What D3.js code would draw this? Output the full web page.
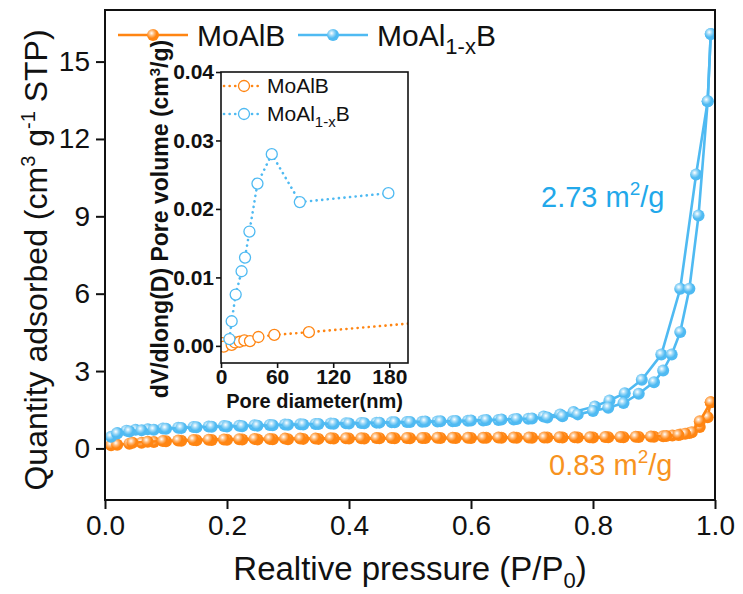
<!DOCTYPE html>
<html><head><meta charset="utf-8">
<script src="https://cdn.jsdelivr.net/npm/d3@7"></script>
<style>body{margin:0;background:#fff}svg{display:block}text{font-family:"Liberation Sans",Arial,sans-serif}</style>
</head><body><svg id="c" width="743" height="594"></svg>
<script>
// ---- main isotherm data (P/P0, quantity adsorbed) ----
const mainXTicks = [0, 0.2, 0.4, 0.6, 0.8, 1.0];
const mainYTicks = [0, 3, 6, 9, 12, 15];
const blueAdsP = [0.01,0.02,0.04,0.06,0.08,0.10,0.125,0.15,0.175,0.20,0.225,0.25,0.275,0.30,0.325,0.35,0.375,0.40,0.425,0.45,0.475,0.50,0.525,0.55,0.575,0.60,0.625,0.65,0.675,0.70,0.725,0.75,0.775,0.80,0.825,0.85,0.875,0.90,0.915,0.929,0.943,0.958,0.973,0.988,0.993];
const blueAdsQ = [0.45,0.58,0.66,0.70,0.72,0.76,0.79,0.82,0.84,0.85,0.86,0.88,0.90,0.92,0.93,0.95,0.96,0.97,0.98,1.00,1.01,1.02,1.04,1.05,1.06,1.08,1.10,1.12,1.14,1.16,1.20,1.25,1.32,1.45,1.58,1.76,2.12,2.57,3.02,3.64,4.51,6.19,9.03,13.46,16.07];
const blueDesP = [0.993,0.988,0.969,0.943,0.912,0.880,0.852,0.827,0.803,0.768,0.746,0.719,0.694,0.67,0.645,0.62,0.595,0.57,0.545,0.52,0.495,0.47,0.445,0.42,0.395,0.37,0.345,0.32,0.295,0.27,0.245,0.22,0.195,0.17,0.145,0.12,0.095,0.07,0.05,0.035,0.02];
const blueDesQ = [16.07,13.46,10.62,6.19,3.64,2.66,2.14,1.86,1.63,1.41,1.32,1.24,1.15,1.12,1.10,1.08,1.07,1.05,1.04,1.03,1.02,1.01,1.00,0.99,0.98,0.97,0.95,0.94,0.93,0.91,0.90,0.88,0.87,0.85,0.83,0.80,0.77,0.74,0.72,0.69,0.60];
const orangeAdsP = [0.01,0.02,0.04,0.06,0.08,0.10,0.125,0.15,0.175,0.20,0.225,0.25,0.275,0.30,0.325,0.35,0.375,0.40,0.425,0.45,0.475,0.50,0.525,0.55,0.575,0.60,0.625,0.65,0.675,0.70,0.725,0.75,0.775,0.80,0.825,0.85,0.875,0.90,0.915,0.93,0.943,0.958,0.975,0.988,0.993];
const orangeAdsQ = [0.12,0.14,0.18,0.22,0.25,0.28,0.30,0.32,0.33,0.34,0.35,0.35,0.36,0.36,0.37,0.37,0.38,0.38,0.38,0.39,0.39,0.39,0.40,0.40,0.40,0.40,0.41,0.41,0.41,0.41,0.42,0.42,0.42,0.42,0.43,0.43,0.44,0.45,0.47,0.50,0.54,0.60,0.83,1.21,1.79];
const orangeDesP = [0.993,0.975,0.962,0.951,0.94,0.92,0.895,0.87,0.845,0.82,0.795,0.77,0.745,0.72,0.695,0.67,0.645,0.62,0.595,0.57,0.545,0.52,0.495,0.47,0.445,0.42,0.395,0.37,0.345,0.32,0.295,0.27,0.245,0.22,0.195,0.17,0.145,0.12,0.095,0.07,0.045];
const orangeDesQ = [1.79,1.05,0.63,0.57,0.52,0.48,0.46,0.45,0.44,0.44,0.43,0.43,0.43,0.42,0.42,0.42,0.42,0.41,0.41,0.41,0.41,0.40,0.40,0.40,0.40,0.39,0.39,0.39,0.38,0.38,0.38,0.37,0.37,0.36,0.35,0.34,0.33,0.31,0.29,0.26,0.22];
// ---- inset pore size distribution ----
const insetXTicks = [0, 60, 120, 180];
const insetYTicks = [0, 0.01, 0.02, 0.03, 0.04];
const poreBlueD = [9, 11.4, 15.7, 22, 25.7, 30.4, 39, 54.3, 84.3, 179];
const poreBlueV = [0.0010, 0.0036, 0.0075, 0.0109, 0.0129, 0.0167, 0.0237, 0.0280, 0.0210, 0.0223];
const poreOrangeD = [1.8, 3, 11.4, 15, 20, 25, 31, 40, 57, 94, 230];
const poreOrangeV = [0.0004, -0.0001, 0.00015, 0.0005, 0.0006, 0.0008, 0.0007, 0.0013, 0.0016, 0.0020, 0.0036];
const seriesNames = ["MoAlB", "MoAl1-xB"];
const areaLabels = ["2.73", "0.83"];

const ORANGE = "#ff8512", BLUE = "#4fbaf2", ORANGE_T = "#f7931e", BLUE_T = "#22a8ea";
const svg = d3.select("#c");
const defs = svg.append("defs");
function grad(id, col){
  const g = defs.append("radialGradient").attr("id", id).attr("cx","38%").attr("cy","35%").attr("r","65%");
  g.append("stop").attr("offset","0%").attr("stop-color","#fff");
  g.append("stop").attr("offset","35%").attr("stop-color",d3.interpolateRgb("#fff",col)(0.6));
  g.append("stop").attr("offset","65%").attr("stop-color",col);
  g.append("stop").attr("offset","100%").attr("stop-color",col);
}
grad("gO", ORANGE); grad("gB", BLUE);

const L=105, R=715, T=10, B=500;
const x = d3.scaleLinear([0,1],[L,R]);
const y = d3.scaleLinear([-2,17],[B,T]);

svg.append("clipPath").attr("id","mc").append("rect").attr("x",L).attr("y",T).attr("width",R-L).attr("height",B-T);
const plot = svg.append("g").attr("clip-path","url(#mc)");
const line = d3.line().x(d=>x(d[0])).y(d=>y(d[1]));
function zip(a,b){return a.map((v,i)=>[v,b[i]]);}
function series(P,Q,col,g){
  const d = zip(P,Q);
  plot.append("path").attr("d",line(d)).attr("fill","none").attr("stroke",col).attr("stroke-width",2.6);
  plot.append("g").selectAll("circle").data(d).join("circle").attr("cx",p=>x(p[0])).attr("cy",p=>y(p[1])).attr("r",6).attr("fill",`url(#${g})`);
}
series(orangeAdsP, orangeAdsQ, ORANGE, "gO");
series(orangeDesP, orangeDesQ, ORANGE, "gO");
series(blueDesP, blueDesQ, BLUE, "gB");
series(blueAdsP, blueAdsQ, BLUE, "gB");

// axes
const ax = svg.append("g").attr("transform",`translate(0,${B})`).call(d3.axisBottom(x).tickValues(mainXTicks).tickFormat(d3.format(".1f")).tickSize(9).tickPadding(6).tickSizeOuter(0));
const ay = svg.append("g").attr("transform",`translate(${L},0)`).call(d3.axisLeft(y).tickValues(mainYTicks).tickSize(9).tickPadding(6).tickSizeOuter(0));
[ax,ay].forEach(a=>{a.select(".domain").remove();a.selectAll("line").attr("stroke","#111").attr("stroke-width",2);a.selectAll("text").attr("font-size",28).attr("fill","#111").attr("font-family","Liberation Sans, Arial");});
svg.append("rect").attr("x",L).attr("y",T).attr("width",R-L).attr("height",B-T).attr("fill","none").attr("stroke","#111").attr("stroke-width",2);

// axis titles
const xt = svg.append("text").attr("x",(L+R)/2).attr("y",580).attr("text-anchor","middle").attr("font-size",33).attr("fill","#111");
xt.append("tspan").text("Realtive pressure (P/P");
xt.append("tspan").attr("dy",8).attr("font-size",22).text("0");
xt.append("tspan").attr("dy",-8).text(")");
const yt = svg.append("text").attr("transform",`translate(47,260) rotate(-90)`).attr("text-anchor","middle").attr("font-size",32).attr("fill","#111");
yt.append("tspan").text("Quantity adsorbed (cm");
yt.append("tspan").attr("dy",-12).attr("font-size",20).text("3");
yt.append("tspan").attr("dy",12).text(" g");
yt.append("tspan").attr("dy",-12).attr("font-size",20).text("-1");
yt.append("tspan").attr("dy",12).text(" STP)");

// main legend
function legItem(x0, col, g, parts){
  svg.append("line").attr("x1",x0).attr("x2",x0+70).attr("y1",35).attr("y2",35).attr("stroke",col).attr("stroke-width",2.6);
  svg.append("circle").attr("cx",x0+35).attr("cy",35).attr("r",6).attr("fill",`url(#${g})`);
  const t = svg.append("text").attr("x",x0+79).attr("y",46).attr("font-size",30).attr("fill","#111");
  parts(t);
}
legItem(118, ORANGE, "gO", t=>t.text(seriesNames[0]));
legItem(298, BLUE, "gB", t=>{t.append("tspan").text("MoAl");t.append("tspan").attr("dy",8).attr("font-size",22).text("1-x");t.append("tspan").attr("dy",-8).text("B");});

// annotations
function area(xp, yp, col, val){
  const t = svg.append("text").attr("x",xp).attr("y",yp).attr("font-size",29).attr("fill",col);
  t.append("tspan").text(val+" m");
  t.append("tspan").attr("dy",-12).attr("font-size",19).text("2");
  t.append("tspan").attr("dy",12).text("/g");
}
area(541, 207, BLUE_T, areaLabels[0]);
area(549, 475, ORANGE_T, areaLabels[1]);

// ---- inset ----
const iL=221, iR=408, iT=72, iB=363;
svg.append("rect").attr("x",iL).attr("y",iT).attr("width",iR-iL).attr("height",iB-iT).attr("fill","#fff");
const ix = d3.scaleLinear([0,200],[iL,iR]);
const iy = d3.scaleLinear([-0.0025,0.04],[iB,iT]);
svg.append("clipPath").attr("id","ic").append("rect").attr("x",iL).attr("y",iT).attr("width",iR-iL).attr("height",iB-iT);
const ip = svg.append("g").attr("clip-path","url(#ic)");
const iline = d3.line().x(d=>ix(d[0])).y(d=>iy(d[1]));
function iseries(D,V,col){
  const d = zip(D,V);
  ip.append("path").attr("d",iline(d)).attr("fill","none").attr("stroke",col).attr("stroke-width",2.6).attr("stroke-dasharray","0.1 5.5").attr("stroke-linecap","round");
  ip.append("g").selectAll("circle").data(d).join("circle").attr("cx",p=>ix(p[0])).attr("cy",p=>iy(p[1])).attr("r",5.5).attr("fill","#fff").attr("stroke",col).attr("stroke-width",1.3);
}
iseries(poreOrangeD, poreOrangeV, ORANGE);
iseries(poreBlueD, poreBlueV, BLUE);
const iax = svg.append("g").attr("transform",`translate(0,${iB})`).call(d3.axisBottom(ix).tickValues(insetXTicks).tickSize(5).tickPadding(1).tickSizeOuter(0));
const iay = svg.append("g").attr("transform",`translate(${iL},0)`).call(d3.axisLeft(iy).tickValues(insetYTicks).tickFormat(d3.format(".2f")).tickSize(5).tickPadding(2).tickSizeOuter(0));
[iax,iay].forEach(a=>{a.select(".domain").remove();a.selectAll("line").attr("stroke","#111").attr("stroke-width",1.6);a.selectAll("text").attr("font-size",21).attr("font-weight","bold").attr("fill","#111").attr("font-family","Liberation Sans, Arial");});
svg.append("rect").attr("x",iL).attr("y",iT).attr("width",iR-iL).attr("height",iB-iT).attr("fill","none").attr("stroke","#111").attr("stroke-width",1.6);
svg.append("text").attr("x",(iL+iR)/2).attr("y",408).attr("text-anchor","middle").attr("font-size",20).attr("font-weight","bold").attr("fill","#111").text("Pore diameter(nm)");
const iyt = svg.append("text").attr("transform",`translate(168,219) rotate(-90)`).attr("text-anchor","middle").attr("font-size",23).attr("font-weight","bold").attr("fill","#111");
iyt.append("tspan").text("dV/dlong(D) Pore volume (cm");
iyt.append("tspan").attr("dy",-8).attr("font-size",15).text("3");
iyt.append("tspan").attr("dy",8).text("/g)");
// inset legend
function iLeg(yp, col, parts){
  svg.append("line").attr("x1",224).attr("x2",259).attr("y1",yp).attr("y2",yp).attr("stroke",col).attr("stroke-width",2.6).attr("stroke-dasharray","0.1 5.5").attr("stroke-linecap","round");
  svg.append("circle").attr("cx",244).attr("cy",yp).attr("r",5.5).attr("fill","#fff").attr("stroke",col).attr("stroke-width",1.3);
  const t = svg.append("text").attr("x",267).attr("y",yp+7).attr("font-size",21).attr("fill","#111");
  parts(t);
}
iLeg(86, ORANGE, t=>t.text(seriesNames[0]));
iLeg(114, BLUE, t=>{t.append("tspan").text("MoAl");t.append("tspan").attr("dy",6).attr("font-size",15).text("1-x");t.append("tspan").attr("dy",-6).text("B");});
</script></body></html>
